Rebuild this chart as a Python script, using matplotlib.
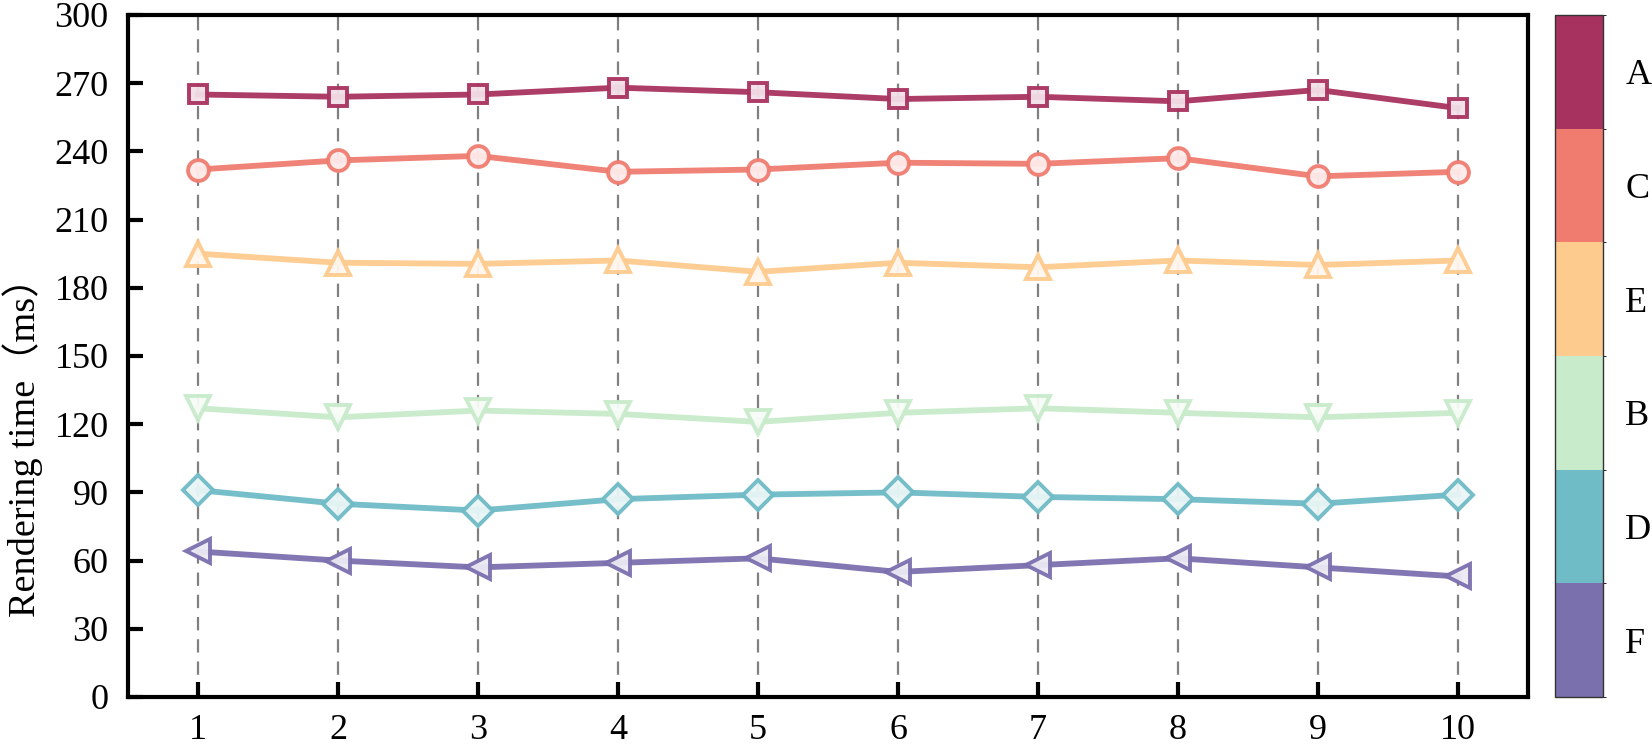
import matplotlib
matplotlib.use("Agg")
import matplotlib.pyplot as plt
import numpy as np
from matplotlib.colors import ListedColormap, BoundaryNorm, to_rgb
from matplotlib.cm import ScalarMappable

x = list(range(1, 11))
series_names = ["A", "C", "E", "B", "D", "F"]
A = [265, 264, 265, 268, 266, 263, 264, 262, 267, 259]
C = [232, 236, 238, 231, 232, 235, 234.5, 237, 229, 231]
E = [195, 191, 190.5, 192, 187, 191, 189, 192, 190, 192]
B = [127, 123, 126, 124.5, 121, 125, 127, 125, 123, 125]
D = [91, 85, 82, 87, 89, 90, 88, 87, 85, 89]
F = [64, 60, 57, 59, 61, 55, 58, 61, 57, 53]
series = [A, C, E, B, D, F]
colors = ["#A8325F", "#F07C70", "#FECB8E", "#C8EBCB", "#6FBBC6", "#7B70AE"]
markers = ["s", "o", "^", "v", "D", "<"]
msizes = [13, 15, 17, 17, 15, 17]
yticks = [0, 30, 60, 90, 120, 150, 180, 210, 240, 270, 300]

serif = ["Liberation Serif", "Noto Sans CJK SC", "DejaVu Serif"]
plt.rcParams["font.family"] = serif

fig = plt.figure(figsize=(16.52, 7.46), dpi=100)
ax = fig.add_axes([0.0775, 0.0657, 0.8475, 0.9143])

for vals, c, m, ms in zip(series, colors, markers, msizes):
    rgb = np.array(to_rgb(c))
    face = tuple(0.15 * rgb + 0.85 * np.ones(3))
    ax.plot(x, vals, color=c, lw=4.2, marker=m, ms=ms, mfc=face, mec=c,
            mew=2.8, alpha=0.95, zorder=3)

ax.set_xlim(0.5, 10.5)
ax.set_ylim(0, 300)
ax.set_xticks(x)
ax.set_yticks(yticks)
ax.xaxis.grid(True, color="#808080", lw=1.6, linestyle=(0, (6, 4)), zorder=1)
ax.tick_params(axis="both", direction="in", length=11, width=3, labelsize=26)
ax.tick_params(axis="y", pad=14)
ax.tick_params(axis="x", pad=12)
for sp in ax.spines.values():
    sp.set_linewidth(3)
ax.set_ylabel("Rendering time（ms）", fontsize=27.5, family=serif)
ax.yaxis.set_label_coords(-0.061, 0.38)

cax = fig.add_axes([0.9413, 0.0657, 0.029, 0.9143])
cmap = ListedColormap(colors[::-1])
norm = BoundaryNorm(np.arange(0, 7), cmap.N)
cb = fig.colorbar(ScalarMappable(norm=norm, cmap=cmap), cax=cax,
                  ticks=np.arange(0.5, 6.5, 1))
cb.set_ticklabels(series_names[::-1])
cb.ax.tick_params(length=0, labelsize=26, pad=16)
cb.outline.set_linewidth(1.0)
cb.outline.set_edgecolor("#333333")

fig.savefig("out.png", dpi=100)
